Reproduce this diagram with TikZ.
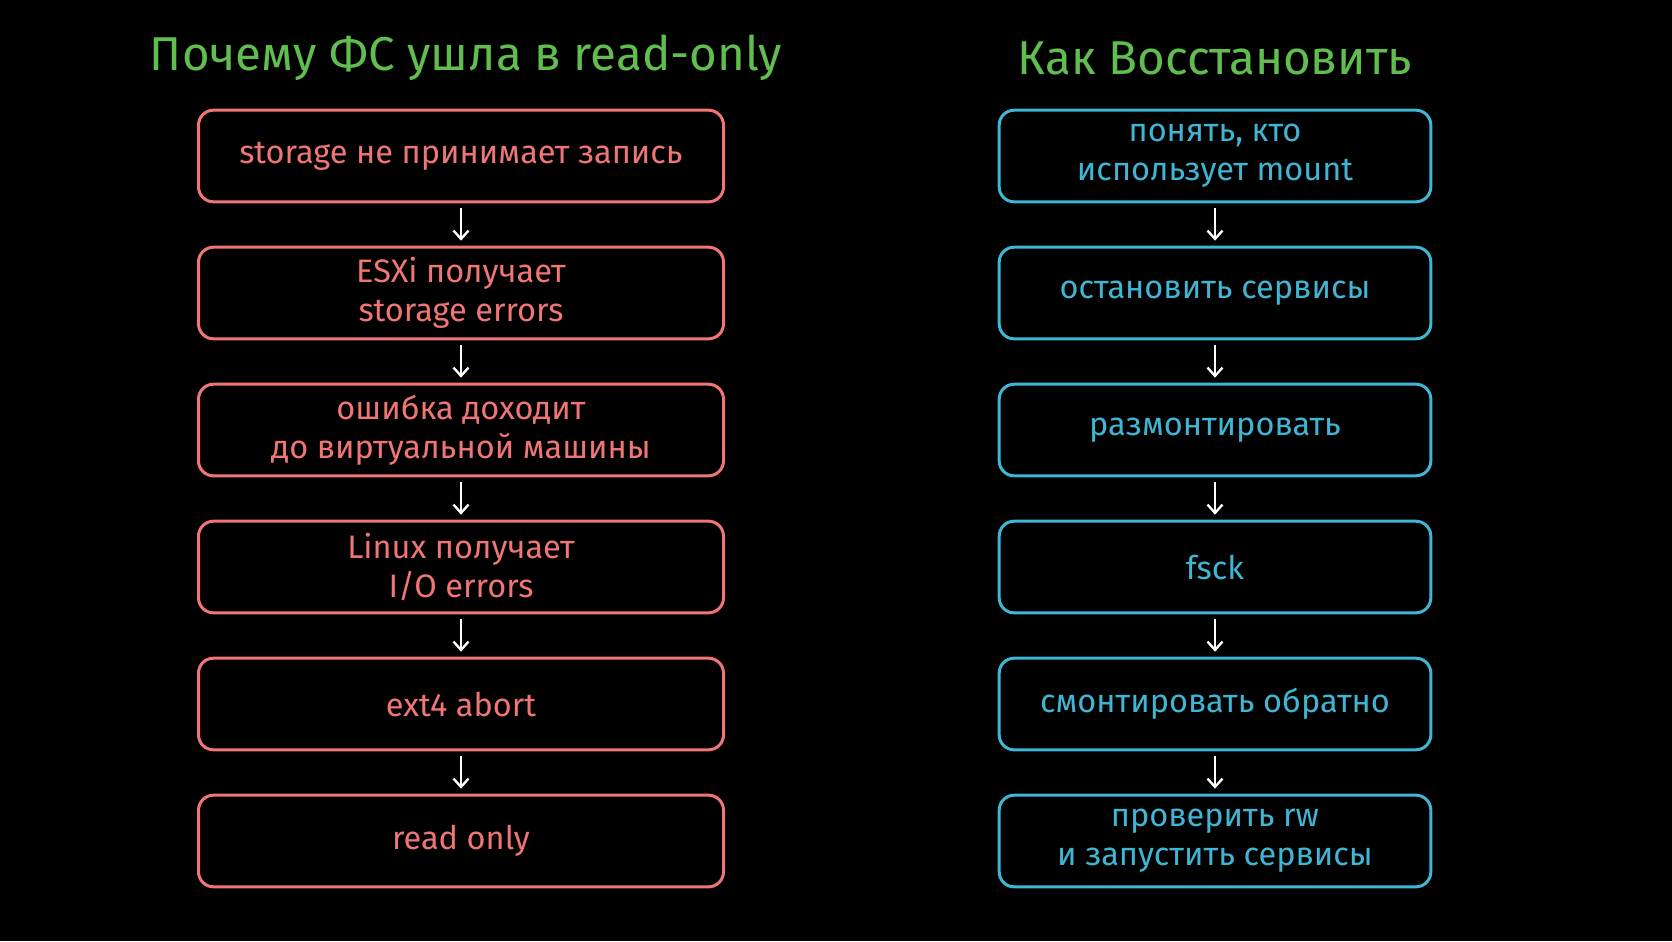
\documentclass[tikz,border=0pt]{standalone}
\usepackage{fontspec}
\setmainfont{Fira Sans}
\usetikzlibrary{arrows.meta,positioning}
\definecolor{redline}{RGB}{240,118,118}
\definecolor{blueline}{RGB}{62,182,212}
\definecolor{titlegreen}{RGB}{96,190,78}
\begin{document}
\begin{tikzpicture}[x=0.6pt, y=-0.6pt, node distance=25.4pt, >={Straight Barb[length=5pt,width=9pt]}, font=\fontsize{19.5}{23.5}\selectfont]
\tikzstyle{cause}=[rectangle, rounded corners=9pt, draw=redline, text=redline, line width=1.8pt, align=center, minimum width=315pt, minimum height=55pt]
\tikzstyle{fix}=[rectangle, rounded corners=9pt, draw=blueline, text=blueline, line width=1.8pt, align=center, minimum width=259pt, minimum height=55pt]
\tikzstyle{head}=[text=titlegreen, font=\fontsize{28.5}{32}\selectfont]
\tikzstyle{flow}=[->, white, line width=1.4pt, shorten <=3pt, shorten >=3pt]
\fill[black] (0,0) rectangle (1672,941);
% left column: why read-only
\node[head] (lhead) at (466,58) {Почему ФС ушла в read-only};
\node[cause] (c1) at (461,156) {storage не принимает запись};
\node[cause, below=of c1] (c2) {ESXi получает\\ storage errors};
\node[cause, below=of c2] (c3) {ошибка доходит\\ до виртуальной машины};
\node[cause, below=of c3] (c4) {Linux получает\\ I/O errors};
\node[cause, below=of c4] (c5) {ext4 abort};
\node[cause, below=of c5] (c6) {read only};
% right column: recovery
\node[head] (rhead) at (1215,58) {Как Восстановить};
\node[fix] (f1) at (1215,156) {понять, кто\\ использует mount};
\node[fix, below=of f1] (f2) {остановить сервисы};
\node[fix, below=of f2] (f3) {размонтировать};
\node[fix, below=of f3] (f4) {fsck};
\node[fix, below=of f4] (f5) {смонтировать обратно};
\node[fix, below=of f5] (f6) {проверить rw\\ и запустить сервисы};
\foreach \a/\b in {c1/c2,c2/c3,c3/c4,c4/c5,c5/c6,f1/f2,f2/f3,f3/f4,f4/f5,f5/f6}
  \draw[flow] (\a) -- (\b);
\end{tikzpicture}
\end{document}
